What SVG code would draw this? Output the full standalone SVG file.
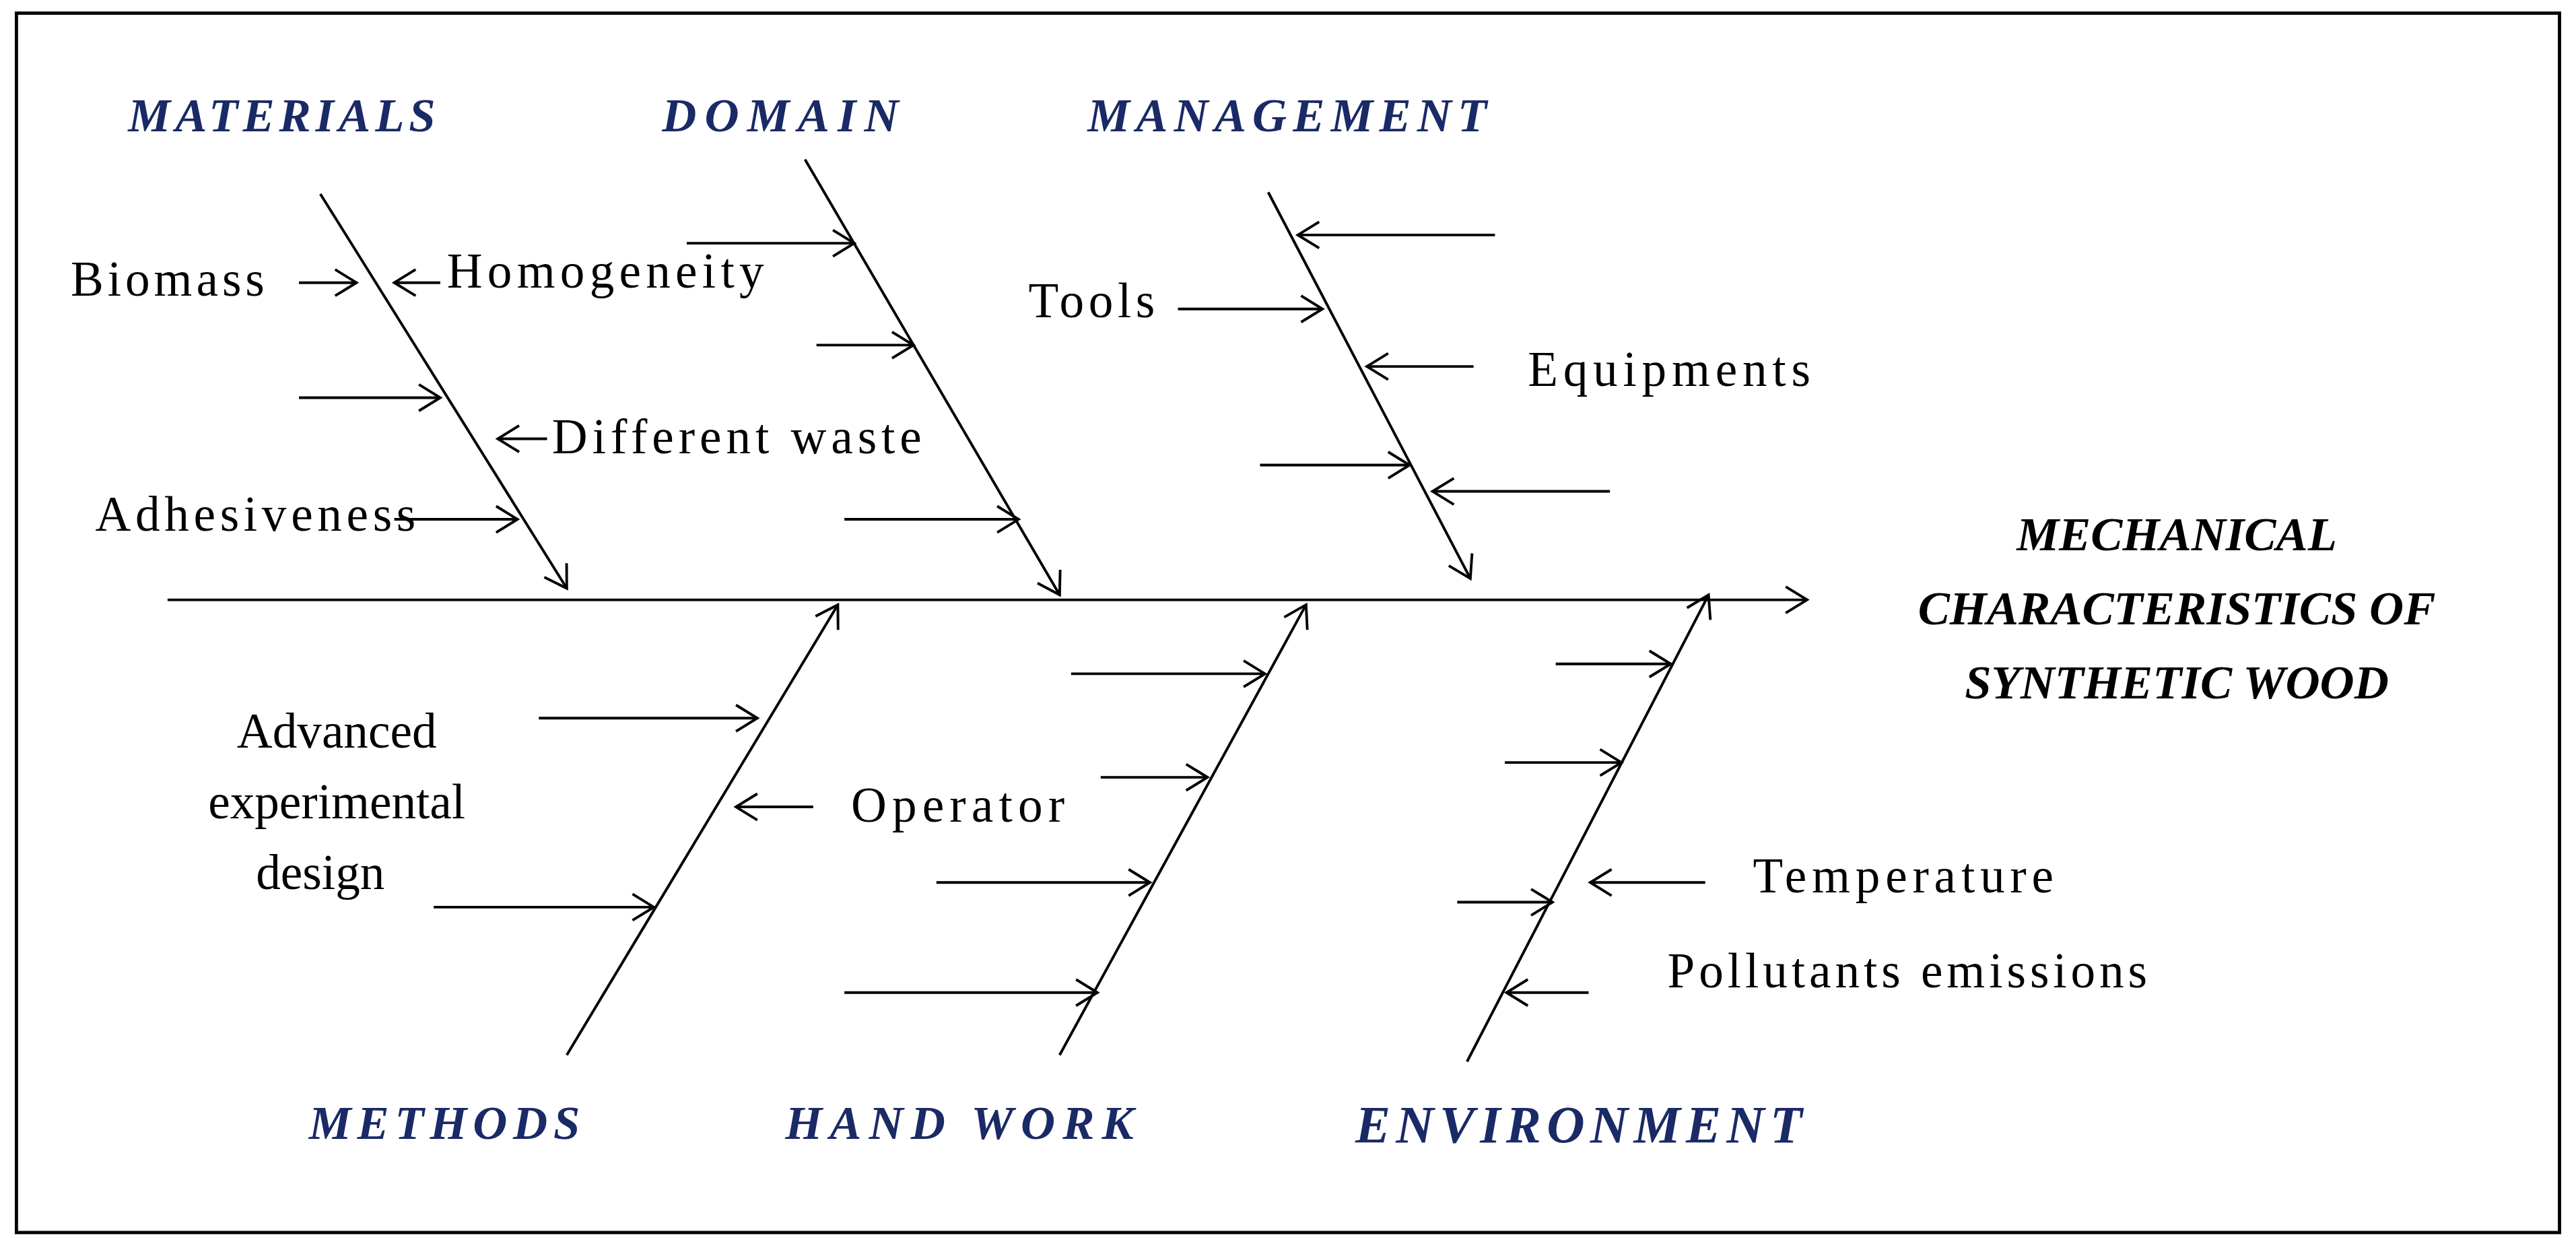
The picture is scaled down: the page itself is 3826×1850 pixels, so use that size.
<svg xmlns="http://www.w3.org/2000/svg" width="3826" height="1850" viewBox="0 0 3826 1850">
<defs>
<marker id="ah" markerUnits="userSpaceOnUse" markerWidth="30" markerHeight="30" viewBox="-15 -15 30 30" refX="0" refY="0" orient="auto" overflow="visible">
<path d="M-13,-8 L0,0 L-13,8" fill="none" stroke="#000" stroke-width="1.6"/>
</marker>
<style>
.l{stroke:#000;stroke-width:1.6;fill:none}
.a{stroke:#000;stroke-width:1.6;fill:none;marker-end:url(#ah)}
.t{font-family:"Liberation Serif",serif;font-size:30px;fill:#000}
.c{font-family:"Liberation Serif",serif;font-size:29px;font-style:italic;font-weight:bold;fill:#1a2a66}
.e{font-family:"Liberation Serif",serif;font-size:29px;font-style:italic;font-weight:bold;fill:#000}
</style>
</defs>
<rect width="3826" height="1850" fill="#fff"/>
<g transform="scale(2.44)">
<rect x="10" y="8" width="1548" height="742" fill="none" stroke="#000" stroke-width="2"/>
<g id="connectors">
<line class="a" x1="102" y1="365" x2="1100" y2="365"/>
<line class="a" x1="195" y1="118" x2="345" y2="358"/>
<line class="a" x1="490" y1="97" x2="645" y2="362"/>
<line class="a" x1="772" y1="117" x2="895" y2="352"/>
<line class="a" x1="345" y1="642" x2="510" y2="368"/>
<line class="a" x1="645" y1="642" x2="795" y2="368"/>
<line class="a" x1="893" y1="646" x2="1040" y2="362"/>
<line class="a" x1="182" y1="172" x2="217" y2="172"/>
<line class="a" x1="268" y1="172" x2="240" y2="172"/>
<line class="a" x1="182" y1="242" x2="268" y2="242"/>
<line class="a" x1="333" y1="267" x2="303" y2="267"/>
<line class="a" x1="240" y1="316" x2="315" y2="316"/>
<line class="a" x1="418" y1="148" x2="520" y2="148"/>
<line class="a" x1="497" y1="210" x2="556" y2="210"/>
<line class="a" x1="514" y1="316" x2="620" y2="316"/>
<line class="a" x1="910" y1="143" x2="790" y2="143"/>
<line class="a" x1="717" y1="188" x2="805" y2="188"/>
<line class="a" x1="897" y1="223" x2="832" y2="223"/>
<line class="a" x1="767" y1="283" x2="858" y2="283"/>
<line class="a" x1="980" y1="299" x2="872" y2="299"/>
<line class="a" x1="328" y1="437" x2="461" y2="437"/>
<line class="a" x1="495" y1="491" x2="448" y2="491"/>
<line class="a" x1="264" y1="552" x2="398" y2="552"/>
<line class="a" x1="652" y1="410" x2="770" y2="410"/>
<line class="a" x1="670" y1="473" x2="735" y2="473"/>
<line class="a" x1="570" y1="537" x2="700" y2="537"/>
<line class="a" x1="514" y1="604" x2="668" y2="604"/>
<line class="a" x1="947" y1="404" x2="1017" y2="404"/>
<line class="a" x1="916" y1="464" x2="987" y2="464"/>
<line class="a" x1="887" y1="549" x2="945" y2="549"/>
<line class="a" x1="1038" y1="537" x2="968" y2="537"/>
<line class="a" x1="967" y1="604" x2="917" y2="604"/>
</g>
<g id="effect"><text class="e" text-anchor="middle" x="1325" y="335">MECHANICAL</text><text class="e" text-anchor="middle" x="1325" y="380">CHARACTERISTICS OF</text><text class="e" text-anchor="middle" x="1325" y="425">SYNTHETIC WOOD</text></g>
<g id="materials"><text class="c" x="78" y="80" textLength="187">MATERIALS</text></g>
<g id="domain"><text class="c" x="403" y="80" textLength="144">DOMAIN</text></g>
<g id="management"><text class="c" x="662" y="80" textLength="243">MANAGEMENT</text></g>
<g id="methods"><text class="c" x="188" y="693" textLength="165">METHODS</text></g>
<g id="handwork"><text class="c" x="478" y="693" textLength="212">HAND WORK</text></g>
<g id="environment"><text class="c" x="825" y="695" textLength="272" style="font-size:32px">ENVIRONMENT</text></g>
<g id="biomass"><text class="t" x="43" y="180" textLength="118">Biomass</text></g>
<g id="homogeneity"><text class="t" x="272" y="175" textLength="193">Homogeneity</text></g>
<g id="waste"><text class="t" x="336" y="276" textLength="225">Different waste</text></g>
<g id="adhesiveness"><text class="t" x="58" y="323" textLength="195">Adhesiveness</text></g>
<g id="tools"><text class="t" x="626" y="193" textLength="77">Tools</text></g>
<g id="equipments"><text class="t" x="930" y="235" textLength="172">Equipments</text></g>
<g id="advanced"><text class="t" text-anchor="middle" x="205" y="455">Advanced</text><text class="t" text-anchor="middle" x="205" y="498">experimental</text><text class="t" text-anchor="middle" x="195" y="541">design</text></g>
<g id="operator"><text class="t" x="518" y="500" textLength="130">Operator</text></g>
<g id="temperature"><text class="t" x="1067" y="543" textLength="183">Temperature</text></g>
<g id="pollutants"><text class="t" x="1015" y="601" textLength="292">Pollutants emissions</text></g>
</g>
</svg>
